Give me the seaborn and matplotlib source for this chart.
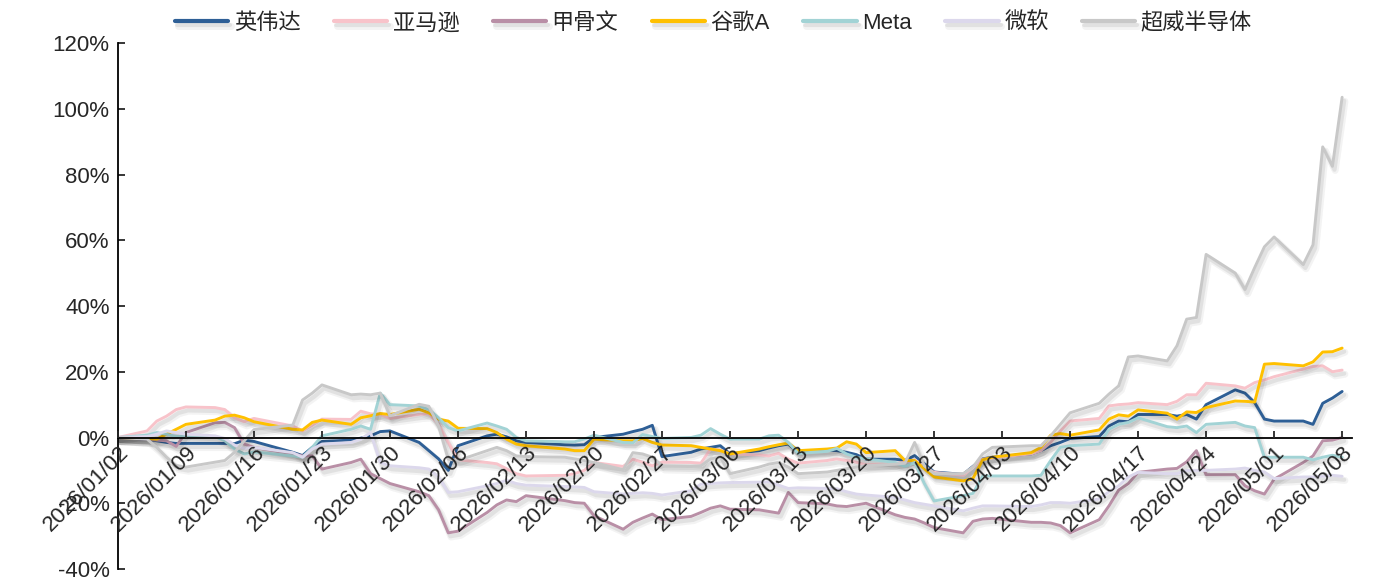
import matplotlib
matplotlib.use("Agg")
import matplotlib.pyplot as plt
import matplotlib.dates as mdates
import matplotlib.patheffects as pe
from matplotlib.ticker import FuncFormatter, MultipleLocator
import numpy as np
import pandas as pd
import seaborn as sns

# trading days 2026/01/02 - 2026/05/08 (US holidays removed)
dates = pd.bdate_range("2026-01-02", "2026-05-08", freq="C",
                       holidays=["2026-01-19", "2026-02-16", "2026-04-03"])
tick_dates = pd.date_range("2026-01-02", "2026-05-08", freq="7D")

names = ["英伟达", "亚马逊", "甲骨文", "谷歌A", "Meta", "微软", "超威半导体"]
colors = ["#2E5F96", "#F8C3CA", "#B98FA6", "#FFC000", "#A2D3D5", "#DCD8EC", "#C8C8C8"]

# cumulative return, %
nvda = [0, -0.5, -1.0, -1.5, -1.8, -1.8, -1.8, -1.8, -1.9, -0.8, -1.2,
        -4.5, -5.5, -3.0, -1.2, -0.8, -0.2, 0.5, 1.8, 2.0,
        -1.5, -4.0, -6.5, -10.0, -2.5, 0.5, 1.0, 0.2, -1.0, -1.5,
        -2.2, -2.3, -2.2, 0.0, 1.0, 1.8, 2.5, 3.7, -5.8,
        -4.5, -3.5, -3.0, -2.5, -5.0, -4.0, -3.2, -2.5, -2.0, -4.5,
        -3.8, -4.0, -4.5, -5.2, -6.6, -6.6, -7.0, -5.5, -8.0, -10.5,
        -11.2, -8.8, -6.5, -6.0, -5.0, -4.0, -2.5, -1.5, -0.3,
        0.3, 3.5, 5.0, 4.8, 7.0, 7.0, 6.5, 7.0, 5.6, 10.0,
        14.5, 13.5, 10.6, 5.6, 5.0, 5.0, 4.0, 10.4, 12.0, 14.0]
amzn = [0, 2.0, 5.0, 6.5, 8.5, 9.3, 9.1, 8.5, 6.0, 4.8, 5.8,
        3.5, 2.0, 3.7, 5.6, 5.5, 8.0, 7.2, 7.0, 5.8,
        7.0, 7.2, 4.0, -1.5, -6.8, -7.6, -8.0, -9.5, -11.0, -11.7,
        -11.5, -11.0, -10.0, -7.6, -8.8, -6.6, -7.5, -8.6, -7.5,
        -7.6, -7.8, -3.5, -3.8, -5.0, -5.3, -5.6, -4.8, -6.6, -7.8,
        -7.0, -6.5, -7.0, -7.5, -8.3, -8.0, -7.5, -6.8, -9.0, -10.6,
        -11.5, -9.0, -6.6, -6.2, -5.0, -4.0, -1.5, 2.0, 5.0,
        5.8, 9.6, 10.0, 10.2, 10.6, 10.0, 11.0, 13.0, 13.0, 16.5,
        15.7, 15.0, 16.7, 17.5, 18.5, 20.8, 21.6, 21.8, 20.0, 20.5]
orcl = [0, -0.5, -0.8, -1.0, -2.7, 1.5, 4.5, 4.6, 3.0, -2.0, -3.0,
        -5.0, -5.6, -5.6, -9.6, -7.6, -6.6, -11.0, -12.5, -14.0,
        -16.5, -17.7, -22.0, -29.0, -28.5, -22.8, -20.5, -19.0, -19.5, -17.7,
        -19.2, -19.8, -20.0, -23.8, -27.9, -25.8, -24.5, -23.3, -25.0,
        -24.0, -22.8, -21.5, -20.8, -21.8, -22.0, -22.5, -23.0, -16.7, -19.8,
        -20.2, -20.8, -21.0, -20.5, -20.0, -23.5, -24.3, -24.8, -26.0, -27.4,
        -29.0, -25.5, -24.8, -24.6, -25.8, -25.8, -26.0, -26.8, -29.0,
        -25.0, -20.8, -16.0, -14.0, -10.6, -9.6, -9.4, -7.4, -4.0, -11.3,
        -11.3, -14.7, -16.2, -17.2, -12.7, -7.6, -5.6, -1.0, -0.8, 0.0]
googl = [0, -0.3, -0.5, 1.0, 2.5, 4.0, 5.3, 6.5, 6.8, 6.0, 4.8,
         2.5, 2.3, 4.6, 5.3, 4.0, 6.0, 6.6, 7.3, 7.0,
         8.6, 7.5, 5.6, 5.0, 2.8, 2.7, 1.5, -0.5, -2.0, -2.5,
         -3.5, -4.0, -4.0, -0.5, -1.0, -1.0, -0.3, -1.5, -2.3,
         -2.5, -3.0, -3.5, -4.0, -5.0, -3.5, -2.8, -2.2, -1.7, -4.0,
         -3.5, -3.2, -1.3, -2.0, -4.6, -4.0, -7.0, -7.0, -9.5, -12.0,
         -13.2, -12.5, -6.8, -6.0, -4.6, -3.0, 0.7, 1.2, 0.7,
         2.3, 5.6, 6.9, 6.5, 8.4, 7.4, 5.6, 7.8, 7.6, 9.1,
         11.1, 11.0, 10.8, 22.3, 22.5, 21.8, 23.0, 26.0, 26.1, 27.2]
meta = [0, 0.7, 1.5, 1.0, 0.3, 0.5, 0.3, -1.0, -3.5, -5.0, -4.4,
        -5.6, -6.0, -3.0, 0.5, 2.5, 3.5, 2.5, 13.5, 10.0,
        9.6, 8.5, 6.0, 3.0, 2.0, 4.4, 3.5, 2.5, 0.0, -1.0,
        -1.3, -1.3, -0.5, 0.7, -1.5, -1.6, 0.9, 0.3, -0.3,
        0.0, 0.7, 2.7, 1.0, -0.5, -0.5, 0.5, 0.7, -1.5, -4.8,
        -4.2, -3.3, -5.0, -6.0, -6.5, -7.6, -8.8, -7.6, -14.0, -19.3,
        -17.7, -17.0, -11.7, -11.7, -11.7, -11.5, -7.0, -3.0, -2.5,
        -2.0, 2.5, 4.0, 4.6, 6.0, 3.3, 3.0, 3.5, 1.5, 4.0,
        4.6, 3.5, 3.0, -6.0, -6.0, -6.0, -6.8, -6.0, -5.4, -6.0]
msft = [0, 0.3, 1.0, 2.0, 1.5, 1.0, 0.5, -0.3, -2.3, -3.3, -3.0,
        -4.6, -6.0, -3.5, -2.0, -1.5, -0.5, 1.5, -7.6, -8.6,
        -9.2, -9.6, -12.0, -16.7, -16.5, -14.7, -14.0, -13.0, -14.0, -14.5,
        -14.9, -15.0, -15.2, -16.5, -17.2, -17.0, -16.8, -17.0, -17.5,
        -16.2, -14.2, -14.0, -13.8, -13.7, -13.6, -13.5, -14.5, -15.5, -15.3,
        -15.5, -15.6, -16.5, -17.2, -17.5, -18.2, -19.0, -19.8, -20.3, -20.8,
        -22.3, -21.5, -20.8, -20.8, -21.0, -20.5, -19.8, -19.8, -20.0,
        -18.7, -16.5, -14.7, -12.0, -10.6, -11.0, -11.0, -10.0, -10.0, -10.0,
        -9.6, -9.3, -10.0, -10.5, -12.5, -12.0, -12.0, -11.8, -11.5, -11.8]
amd = [0, -0.5, -3.0, -6.0, -8.5, -9.0, -7.5, -7.0, -4.5, -1.0, 2.4,
       3.8, 11.4, 13.5, 16.0, 13.0, 13.2, 13.0, 13.5, 6.6,
       10.1, 9.5, 3.5, -6.6, -7.0, -4.0, -3.0, -4.0, -5.6, -5.8,
       -6.0, -6.5, -7.0, -7.6, -9.8, -4.6, -5.0, -6.0, -8.6,
       -8.8, -8.6, -6.5, -6.0, -11.0, -9.0, -8.1, -7.6, -9.0, -11.0,
       -10.5, -10.0, -9.5, -9.0, -8.6, -8.1, -7.8, -1.5, -8.6, -11.0,
       -11.0, -9.0, -5.0, -3.0, -2.5, -2.5, 0.5, 4.0, 7.5,
       10.4, 13.2, 15.7, 24.5, 24.8, 23.3, 27.9, 36.0, 36.5, 55.7,
       50.0, 45.0, 51.7, 58.0, 61.0, 52.6, 58.6, 88.4, 82.5, 103.5]

wide = pd.DataFrame({"date": dates, "英伟达": nvda, "亚马逊": amzn, "甲骨文": orcl,
                     "谷歌A": googl, "Meta": meta, "微软": msft, "超威半导体": amd})
df = wide.melt(id_vars="date", var_name="stock", value_name="ret")

sns.set_theme(style="white")
plt.rcParams["font.family"] = ["Liberation Sans", "Noto Sans CJK SC"]
plt.rcParams["axes.unicode_minus"] = False

fig = plt.figure(figsize=(13.99, 5.86), dpi=100)
ax = fig.add_axes([0.0843, 0.029, 0.882, 0.8976])

sns.lineplot(data=df, x="date", y="ret", hue="stock", hue_order=names,
             palette=dict(zip(names, colors)), linewidth=2.1, ax=ax)

# soft drop shadow under every line
shadow = [pe.SimpleLineShadow(offset=(2, -3), shadow_color="k", alpha=0.05, linewidth=5),
          pe.SimpleLineShadow(offset=(1.5, -2.5), shadow_color="k", alpha=0.08, linewidth=3),
          pe.Normal()]
for ln in ax.lines:
    ln.set_path_effects(shadow)
    ln.set_zorder(1.5)

ax.set_ylim(-40, 120)
ax.yaxis.set_major_locator(MultipleLocator(20))
ax.yaxis.set_major_formatter(FuncFormatter(lambda v, p: f"{v:.0f}%"))
ax.set_xlim(pd.Timestamp("2026-01-02"), pd.Timestamp("2026-05-09"))
ax.set_xticks(tick_dates)
ax.xaxis.set_major_formatter(mdates.DateFormatter("%Y/%m/%d"))

for s in ["top", "right"]:
    ax.spines[s].set_visible(False)
ax.spines["bottom"].set_position(("data", 0))
for s in ["left", "bottom"]:
    ax.spines[s].set_color("black")
    ax.spines[s].set_linewidth(1.3)
    ax.spines[s].set_zorder(4)
ax.xaxis.set_zorder(5)

ax.tick_params(axis="y", direction="in", length=5, width=1.3, labelsize=16, pad=6, left=True)
ax.tick_params(axis="x", direction="in", length=5, width=1.3, labelsize=16, pad=3, bottom=True)
plt.setp(ax.get_xticklabels(), rotation=45, ha="right", rotation_mode="anchor")
ax.set_xlabel("")
ax.set_ylabel("")

handles, labels = ax.get_legend_handles_labels()
ax.legend_.remove()
leg = fig.legend(handles, labels, loc="center", bbox_to_anchor=(0.51, 0.96), ncol=7,
                 frameon=False, fontsize=16, handlelength=2.4, handletextpad=0.25,
                 columnspacing=1.5)
for h in leg.legend_handles:
    h.set_linewidth(3)

fig.savefig("out.png", dpi=100)
